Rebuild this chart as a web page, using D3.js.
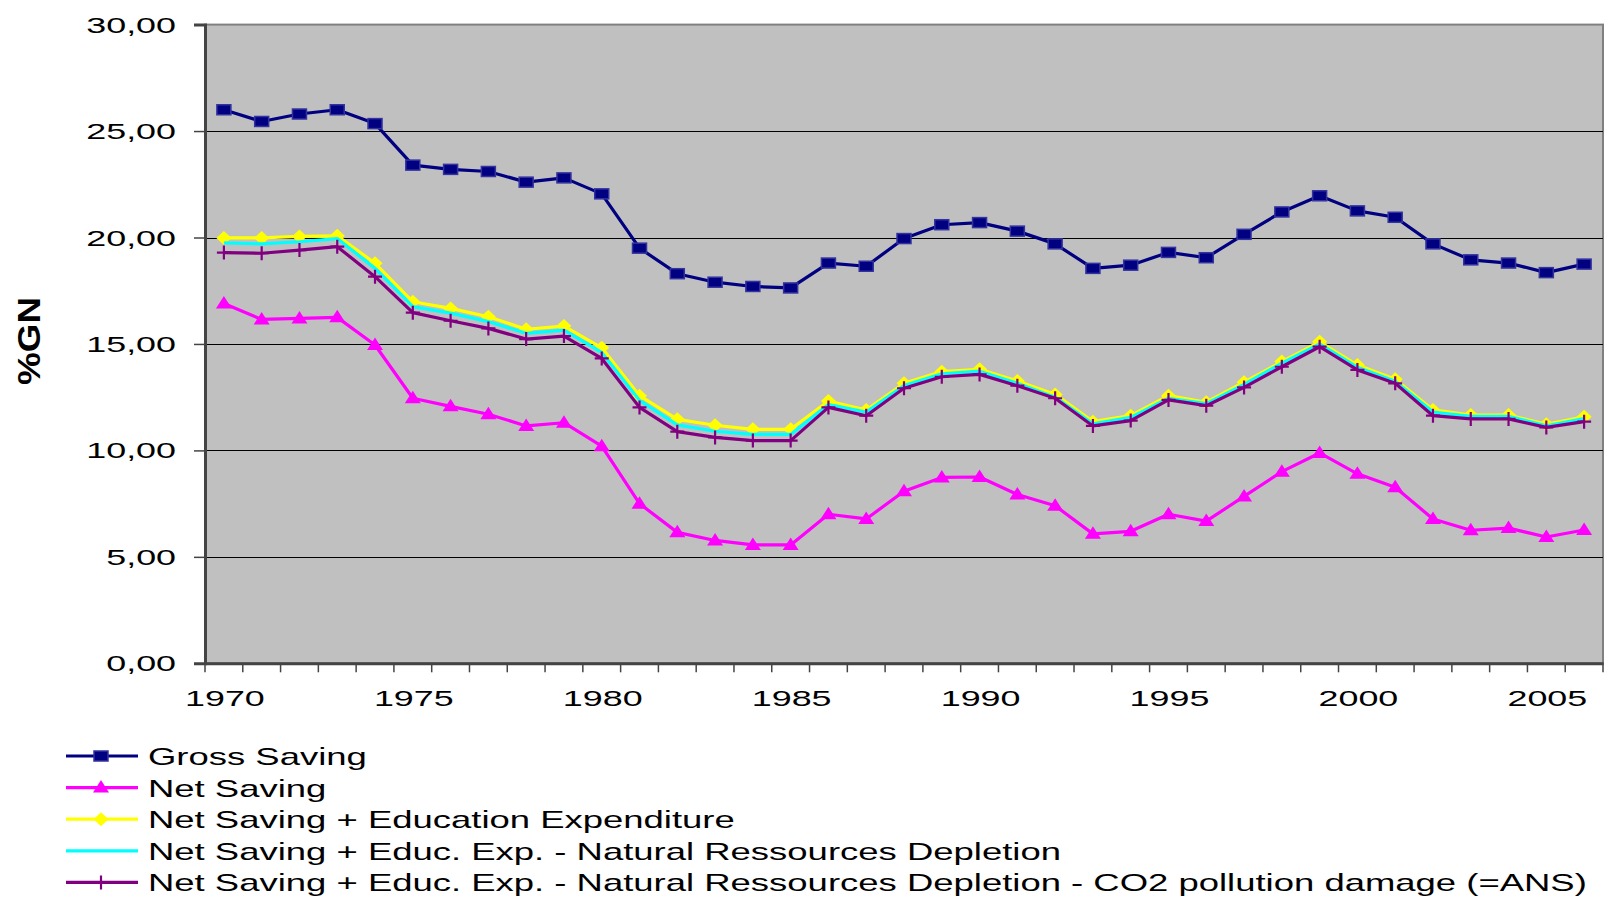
<!DOCTYPE html>
<html>
<head>
<meta charset="utf-8">
<script src="https://cdn.jsdelivr.net/npm/d3@7"></script>
<style>
  html, body { margin: 0; padding: 0; background: #fff; }
  svg text { font-family: "Liberation Sans", Arial, sans-serif; fill: #000; }
</style>
</head>
<body>
<div id="chart"></div>
<script>
const years = d3.range(1970, 2007);
const yTicks = [0, 5, 10, 15, 20, 25, 30];
const xLabelYears = [1970, 1975, 1980, 1985, 1990, 1995, 2000, 2005];

const grossSaving = [26.0, 25.45, 25.8, 26.0, 25.35, 23.4, 23.2, 23.1, 22.6, 22.8, 22.05, 19.5, 18.3, 17.9, 17.7, 17.63,
  18.8, 18.65, 19.95, 20.6, 20.7, 20.3, 19.7, 18.55, 18.7, 19.3, 19.05, 20.15, 21.2, 21.96, 21.25, 20.95, 19.7, 18.95, 18.8, 18.35, 18.75];
const netSaving = [16.9, 16.15, 16.2, 16.25, 14.95, 12.45, 12.07, 11.7, 11.15, 11.3, 10.2, 7.5, 6.15, 5.77, 5.56, 5.56,
  7.0, 6.78, 8.08, 8.73, 8.75, 7.93, 7.4, 6.08, 6.2, 7.0, 6.68, 7.84, 9.0, 9.88, 8.9, 8.27, 6.78, 6.25, 6.35, 5.93, 6.26];
const netPlusEdu = [19.98, 19.98, 20.05, 20.08, 18.79, 16.98, 16.67, 16.28, 15.69, 15.84, 14.82, 12.57, 11.46, 11.18, 10.99, 10.99,
  12.32, 11.9, 13.15, 13.7, 13.81, 13.26, 12.63, 11.35, 11.63, 12.57, 12.26, 13.2, 14.17, 15.1, 14.01, 13.34, 11.9, 11.66, 11.66, 11.23, 11.58];
const minusDepletion = [19.75, 19.7, 19.8, 19.95, 18.55, 16.75, 16.45, 16.05, 15.5, 15.65, 14.6, 12.35, 11.2, 10.9, 10.75, 10.75,
  12.15, 11.8, 13.05, 13.6, 13.72, 13.15, 12.5, 11.25, 11.55, 12.45, 12.2, 13.1, 14.1, 15.0, 13.9, 13.25, 11.8, 11.6, 11.6, 11.15, 11.5];
const ans = [19.29, 19.26, 19.41, 19.57, 18.16, 16.47, 16.09, 15.73, 15.23, 15.37, 14.32, 12.02, 10.88, 10.61, 10.46, 10.46,
  12.02, 11.63, 12.92, 13.46, 13.57, 13.04, 12.45, 11.15, 11.4, 12.37, 12.1, 12.96, 13.93, 14.87, 13.78, 13.15, 11.63, 11.48, 11.48, 11.08, 11.35];

const seriesNames = [
  'Gross Saving',
  'Net Saving',
  'Net Saving + Education Expenditure',
  'Net Saving + Educ. Exp. - Natural Ressources Depletion',
  'Net Saving + Educ. Exp. - Natural Ressources Depletion - CO2 pollution damage (=ANS)'
];
const seriesColors = ['#000080', '#ff00ff', '#ffff00', '#00ffff', '#800080'];
const seriesMarkers = ['square', 'triangle', 'diamond', 'none', 'plus'];
const seriesValues = [grossSaving, netSaving, netPlusEdu, minusDepletion, ans];

const series = seriesNames.map((name, i) => ({
  name,
  color: seriesColors[i],
  marker: seriesMarkers[i],
  values: seriesValues[i].map((v, j) => ({ year: years[j], value: v }))
}));

const W = 1605, H = 898;
const plot = { left: 205, right: 1603, top: 24.6, bottom: 663.3 };
const SX = 1.63; // horizontal stretch of the original axis text

const svg = d3.select('#chart').append('svg')
  .attr('width', W)
  .attr('height', H);

const x = d3.scaleBand()
  .domain(years)
  .range([plot.left, plot.right]);

const y = d3.scaleLinear()
  .domain([0, 30])
  .range([plot.bottom, plot.top]);

// plot background
svg.append('rect')
  .attr('x', plot.left)
  .attr('y', plot.top)
  .attr('width', plot.right - plot.left)
  .attr('height', plot.bottom - plot.top)
  .attr('fill', '#c0c0c0')
  .attr('stroke', '#808080')
  .attr('stroke-width', 2);

// gridlines
svg.append('g')
  .selectAll('line')
  .data(yTicks.filter(d => d > 0 && d < 30))
  .enter()
  .append('line')
  .attr('x1', plot.left)
  .attr('x2', plot.right)
  .attr('y1', d => Math.round(y(d)) + 0.5)
  .attr('y2', d => Math.round(y(d)) + 0.5)
  .attr('stroke', '#000')
  .attr('stroke-width', 1.2);

// y axis
const yAxis = svg.append('g')
  .attr('transform', `translate(${plot.left},0)`)
  .call(d3.axisLeft(y).tickValues(yTicks).tickSize(11).tickFormat(() => ''));
yAxis.select('.domain').attr('stroke', '#444').attr('stroke-width', 3);
yAxis.selectAll('.tick line').attr('stroke', '#444').attr('stroke-width', 1.5);

svg.append('g')
  .selectAll('text')
  .data(yTicks)
  .enter()
  .append('text')
  .attr('transform', d => `translate(176,${y(d) + 8}) scale(${SX},1)`)
  .attr('text-anchor', 'end')
  .attr('font-size', 22)
  .text(d => d3.format('.2f')(d).replace('.', ','));

// x axis
const xAxis = svg.append('g')
  .attr('transform', `translate(0,${plot.bottom})`)
  .call(d3.axisBottom(x).tickSize(0).tickFormat(() => ''));
xAxis.select('.domain').attr('stroke', '#444').attr('stroke-width', 3);

svg.append('g')
  .selectAll('line')
  .data(years.concat([2007]))
  .enter()
  .append('line')
  .attr('x1', d => d === 2007 ? plot.right : x(d))
  .attr('x2', d => d === 2007 ? plot.right : x(d))
  .attr('y1', plot.bottom)
  .attr('y2', plot.bottom + 9)
  .attr('stroke', '#444')
  .attr('stroke-width', 1.5);

svg.append('g')
  .selectAll('text')
  .data(xLabelYears)
  .enter()
  .append('text')
  .attr('transform', d => `translate(${x(d) + x.bandwidth() / 2 + 1},706) scale(${SX},1)`)
  .attr('text-anchor', 'middle')
  .attr('font-size', 22)
  .text(d => d);

// y axis title
svg.append('text')
  .attr('transform', 'translate(40,341) rotate(-90)')
  .attr('text-anchor', 'middle')
  .attr('font-size', 32)
  .attr('font-weight', 'bold')
  .attr('textLength', 88)
  .attr('lengthAdjust', 'spacingAndGlyphs')
  .text('%GN');

// markers
const drawMarker = (g, type, color, cx, cy) => {
  if (type === 'square') {
    g.append('rect')
      .attr('x', cx - 7).attr('y', cy - 5)
      .attr('width', 14).attr('height', 10)
      .attr('fill', '#000080')
      .attr('stroke', '#3333a0')
      .attr('stroke-width', 1.5);
  } else if (type === 'triangle') {
    g.append('path')
      .attr('d', `M${cx},${cy - 7.5}L${cx + 8},${cy + 5}L${cx - 8},${cy + 5}Z`)
      .attr('fill', color);
  } else if (type === 'diamond') {
    g.append('path')
      .attr('d', `M${cx},${cy - 7}L${cx + 7.5},${cy}L${cx},${cy + 7}L${cx - 7.5},${cy}Z`)
      .attr('fill', color);
  } else if (type === 'plus') {
    g.append('path')
      .attr('d', `M${cx - 7},${cy}L${cx + 7},${cy}M${cx},${cy - 7}L${cx},${cy + 7}`)
      .attr('stroke', color)
      .attr('stroke-width', 2.2);
  }
};

const line = d3.line()
  .x(d => x(d.year) + x.bandwidth() / 2)
  .y(d => y(d.value));

series.forEach(s => {
  const g = svg.append('g');
  g.append('path')
    .datum(s.values)
    .attr('d', line)
    .attr('fill', 'none')
    .attr('stroke', s.color)
    .attr('stroke-width', 3.2)
    .attr('stroke-linejoin', 'round');
  s.values.forEach(d => drawMarker(g, s.marker, s.color, x(d.year) + x.bandwidth() / 2, y(d.value)));
});

// legend
const legendTop = 756;
const legendStep = 31.6;
series.forEach((s, i) => {
  const ly = legendTop + i * legendStep;
  const g = svg.append('g');
  g.append('line')
    .attr('x1', 66).attr('x2', 138)
    .attr('y1', ly).attr('y2', ly)
    .attr('stroke', s.color)
    .attr('stroke-width', 3.2);
  drawMarker(g, s.marker, s.color, 101, ly);
  g.append('text')
    .attr('transform', `translate(148,${ly + 9}) scale(1.52,1)`)
    .attr('font-size', 24)
    .text(s.name);
});
</script>
</body>
</html>
